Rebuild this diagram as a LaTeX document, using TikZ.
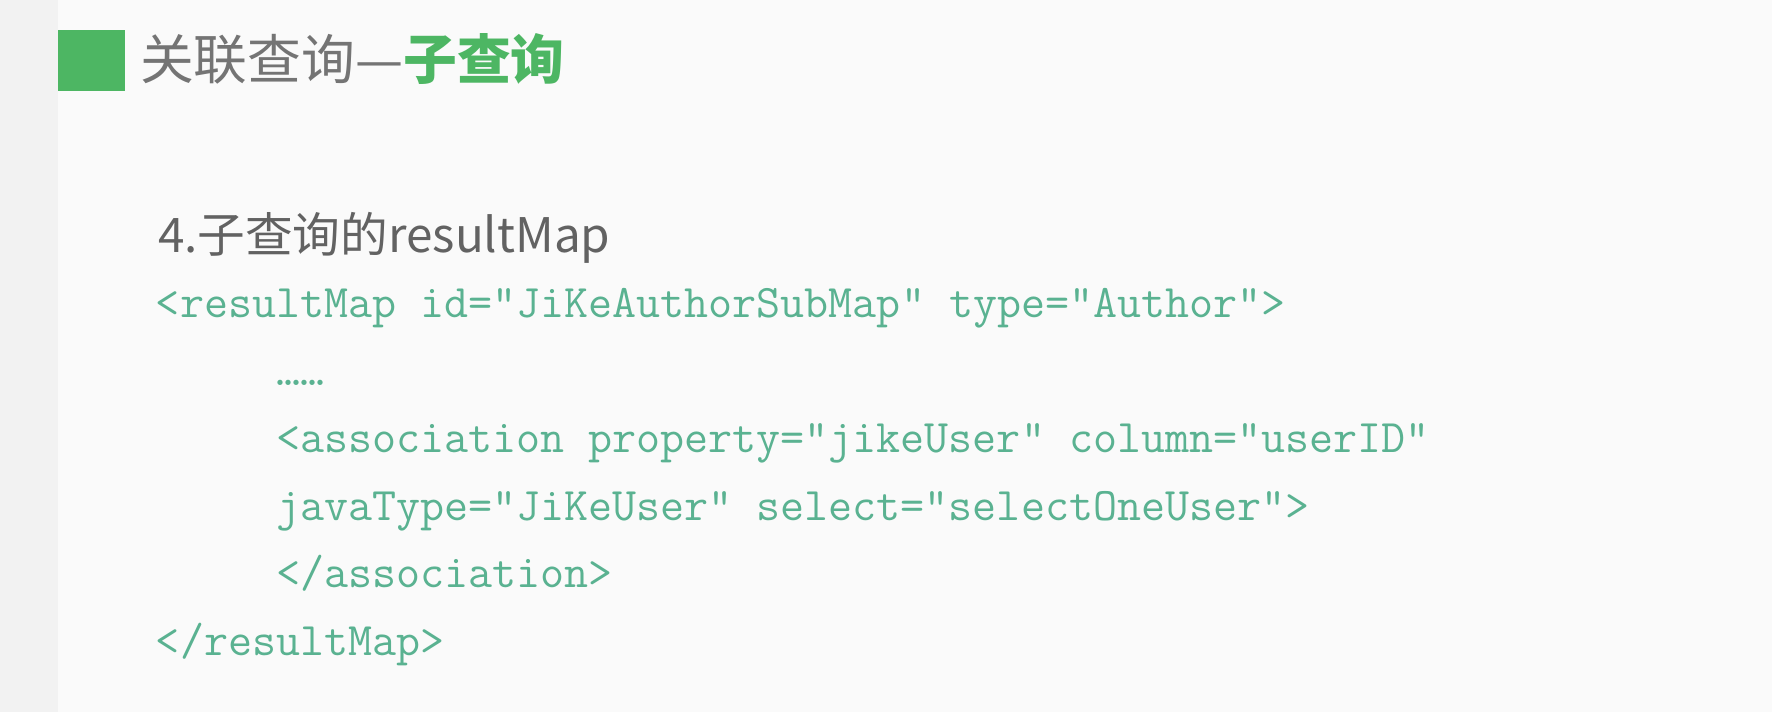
\documentclass[tikz,border=0pt]{standalone}
\usepackage{fontspec}
\newfontfamily\cjk{Noto Sans CJK SC}
\definecolor{pagebg}{HTML}{FAFAFA}
\definecolor{stripbg}{HTML}{F2F2F2}
\definecolor{markgreen}{HTML}{4DB663}
\definecolor{titlegray}{HTML}{747474}
\definecolor{headgray}{HTML}{626262}
\definecolor{codegreen}{HTML}{5AB291}

\begin{document}
\begin{tikzpicture}[x=0.01cm,y=-0.01cm,
		txt/.style={anchor=base west, inner sep=0pt, outer sep=0pt},
		titletext/.style={txt, font=\cjk\fontsize{15.3pt}{17pt}\selectfont, text=titlegray},
		headtext/.style={txt, font=\cjk\fontsize{13.55pt}{15pt}\selectfont, text=headgray},
		codetext/.style={txt, font=\ttfamily\fontsize{13.27pt}{15pt}\selectfont, text=codegreen}]
		% page and left strip
		\fill[pagebg] (0,0) rectangle (1772,712);
		\fill[stripbg] (0,0) rectangle (58,712);
		\useasboundingbox (0,0) rectangle (1772,712);
		\fill[markgreen] (58,30) rectangle (125,91);
		\node[titletext] (title) at (140,79) {关联查询—\textcolor{markgreen}{\bfseries 子查询}};
		\node[headtext] (sub) at (158,252) {4.子查询的resultMap};
		% code lines
		\node[codetext] (line1) at (156,317) {<resultMap id="JiKeAuthorSubMap" type="Author">};
		\node[codetext] (line2) at (276,385) {……};
		\node[codetext] (line3) at (276,452) {<association property="jikeUser" column="userID"};
		\node[codetext] (line4) at (276,520) {javaType="JiKeUser" select="selectOneUser">};
		\node[codetext] (line5) at (276,587) {</association>};
		\node[codetext] (line6) at (156,655) {</resultMap>};
	\end{tikzpicture}
\end{document}
